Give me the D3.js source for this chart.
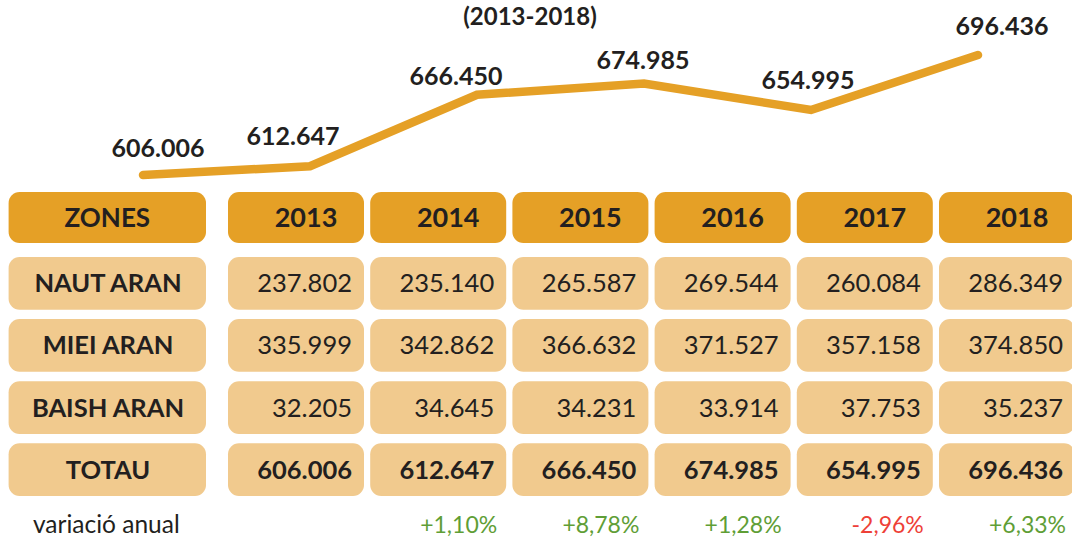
<!DOCTYPE html>
<html>
<head>
<meta charset="utf-8">
<script src="https://cdn.jsdelivr.net/npm/d3@7"></script>
<style>
  html, body { margin: 0; padding: 0; background: #ffffff; }
  svg { display: block; }
  text { font-family: Lato, "Open Sans", sans-serif; fill: #231f20; }
</style>
</head>
<body>
<svg id="chart" width="1072" height="539"></svg>
<script>
// ---- data ----
const years = ["2013", "2014", "2015", "2016", "2017", "2018"];
const zoneLabels = ["NAUT ARAN", "MIEI ARAN", "BAISH ARAN", "TOTAU"];
const nautAran  = [237802, 235140, 265587, 269544, 260084, 286349];
const mieiAran  = [335999, 342862, 366632, 371527, 357158, 374850];
const baishAran = [32205, 34645, 34231, 33914, 37753, 35237];
const totau     = [606006, 612647, 666450, 674985, 654995, 696436];
const variacio  = [null, 1.10, 8.78, 1.28, -2.96, 6.33];
const titleText = "(2013-2018)";
const headerLabel = "ZONES";
const variacioLabel = "variació anual";

// ---- styles / layout ----
const AMBER = "#e5a026";
const LIGHT = "#f1ca8e";
const GREEN = "#5f9e36";
const RED = "#ee4037";
// label placement nudges (layout only, like Excel's auto label placement)
const labelNudge = [[15, -18], [-17, -21], [-21, -10], [-1, -14], [-3, -21], [24, -20]];

const loc = d3.formatLocale({decimal: ",", thousands: ".", grouping: [3], currency: ["", "€"], minus: "-"});
const fmtNum = loc.format(",d");
const fmtPct = v => (v >= 0 ? "+" : "") + loc.format(".2f")(v) + "%";

const svg = d3.select("#chart");

// ---- line chart ----
const xLine = d3.scalePoint().domain(years).range([143, 978]);
const yLine = d3.scaleLinear().domain(d3.extent(totau)).range([175, 55]);

const lineGen = d3.line()
  .x((d, i) => xLine(years[i]))
  .y(d => yLine(d));

svg.append("path")
  .datum(totau)
  .attr("d", lineGen)
  .attr("fill", "none")
  .attr("stroke", AMBER)
  .attr("stroke-width", 8.5)
  .attr("stroke-linecap", "round")
  .attr("stroke-linejoin", "miter");

svg.selectAll("text.ptlabel")
  .data(totau)
  .join("text")
  .attr("class", "ptlabel")
  .attr("x", (d, i) => xLine(years[i]) + labelNudge[i][0])
  .attr("y", (d, i) => yLine(d) + labelNudge[i][1])
  .attr("text-anchor", "middle")
  .attr("font-weight", 700)
  .attr("font-size", 25)
  .text(d => fmtNum(d));

svg.append("text")
  .attr("x", 530)
  .attr("y", 25)
  .attr("text-anchor", "middle")
  .attr("font-weight", 700)
  .attr("font-size", 24)
  .text(titleText);

// ---- table ----
const xCol = d3.scaleBand().domain(years).range([228, 1075]).paddingInner(0.0436).paddingOuter(0);
const zoneX0 = 8.6, zoneX1 = 206;
const headerY = 192, headerH = 51;
const rowY = d3.scaleBand().domain(zoneLabels).range([257, 496]).paddingInner(0.15).paddingOuter(0);
const R = 11;

// header row
const hdr = svg.append("g");
hdr.append("rect")
  .attr("x", zoneX0).attr("y", headerY)
  .attr("width", zoneX1 - zoneX0).attr("height", headerH)
  .attr("rx", R).attr("fill", AMBER);
hdr.append("text")
  .attr("x", (zoneX0 + zoneX1) / 2).attr("y", headerY + headerH / 2 + 9.5)
  .attr("text-anchor", "middle").attr("font-weight", 700).attr("font-size", 26)
  .text(headerLabel);
hdr.selectAll("rect.yr").data(years).join("rect")
  .attr("class", "yr")
  .attr("x", d => xCol(d)).attr("y", headerY)
  .attr("width", xCol.bandwidth()).attr("height", headerH)
  .attr("rx", R).attr("fill", AMBER);
hdr.selectAll("text.yr").data(years).join("text")
  .attr("class", "yr")
  .attr("x", d => xCol(d) + xCol.bandwidth() / 2 + 10)
  .attr("y", headerY + headerH / 2 + 9.5)
  .attr("text-anchor", "middle").attr("font-weight", 700).attr("font-size", 27)
  .text(d => d);

// data rows
const rows = [nautAran, mieiAran, baishAran, totau];
rows.forEach((vals, ri) => {
  const label = zoneLabels[ri];
  const y0 = rowY(label), h = rowY.bandwidth();
  const bold = label === "TOTAU";
  const g = svg.append("g");
  g.append("rect")
    .attr("x", zoneX0).attr("y", y0)
    .attr("width", zoneX1 - zoneX0).attr("height", h)
    .attr("rx", R).attr("fill", LIGHT);
  g.append("text")
    .attr("x", 108).attr("y", y0 + h / 2 + 9)
    .attr("text-anchor", "middle").attr("font-weight", 700).attr("font-size", 25.5)
    .text(label);
  g.selectAll("rect.cell").data(vals).join("rect")
    .attr("class", "cell")
    .attr("x", (d, i) => xCol(years[i])).attr("y", y0)
    .attr("width", xCol.bandwidth()).attr("height", h)
    .attr("rx", R).attr("fill", LIGHT);
  g.selectAll("text.cell").data(vals).join("text")
    .attr("class", "cell")
    .attr("x", (d, i) => xCol(years[i]) + xCol.bandwidth() - 12)
    .attr("y", y0 + h / 2 + 9)
    .attr("text-anchor", "end")
    .attr("font-weight", bold ? 700 : 400)
    .attr("font-size", 25.5)
    .text(d => fmtNum(d));
});

// variació anual row
svg.append("text")
  .attr("x", 33).attr("y", 533)
  .attr("font-size", 24.5)
  .text(variacioLabel);
svg.selectAll("text.pct").data(variacio).join("text")
  .attr("class", "pct")
  .attr("x", (d, i) => xCol(years[i]) + xCol.bandwidth() - 9)
  .attr("y", 533)
  .attr("text-anchor", "end")
  .attr("font-size", 23)
  .style("fill", d => d < 0 ? RED : GREEN)
  .text(d => d == null ? "" : fmtPct(d));
</script>
</body>
</html>
